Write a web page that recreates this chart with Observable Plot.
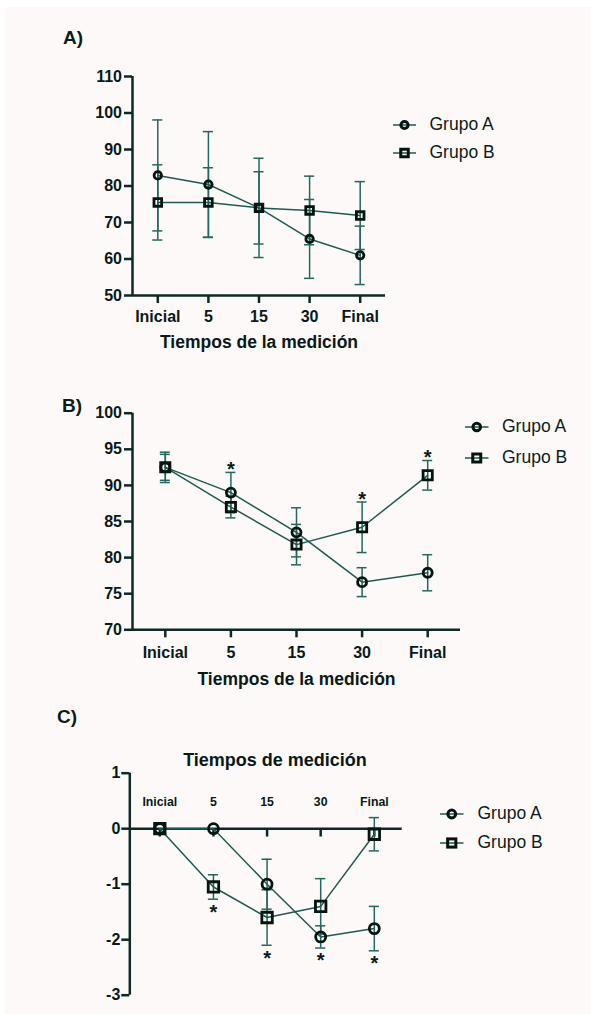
<!DOCTYPE html>
<html>
<head>
<meta charset="utf-8">
<script src="https://cdn.jsdelivr.net/npm/d3@7"></script>
<script src="https://cdn.jsdelivr.net/npm/@observablehq/plot@0.6"></script>
<style>
  html, body { margin: 0; padding: 0; background: #fff; }
  #page { position: relative; width: 591px; height: 1014px; background: #fff; overflow: hidden;
          font-family: "Liberation Sans", Arial, sans-serif; color: #0a1d1a; }
  #bg { position: absolute; left: 5px; top: 7px; right: 0; bottom: 0; background: #fdf9f8; }
  .plabel { position: absolute; font-size: 19px; font-weight: bold; line-height: 1; }
  .leg { position: absolute; display: flex; align-items: center; font-size: 17.5px; line-height: 1; }
  .leg svg { overflow: visible; }
  g[aria-label="x-axis tick"], g[aria-label="y-axis tick"] { stroke-width: 2.5px; }
  g[aria-label="x-axis tick"] path, g[aria-label="y-axis tick"] path { stroke-width: 2.5px; }
</style>
</head>
<body>
<div id="page"><div id="bg"></div></div>
<script>
// ---------- data ----------
const times = ["Inicial", "5", "15", "30", "Final"];
const groups = ["Grupo A", "Grupo B"];

// Panel A
const aMeanA = [82.9, 80.4, 74.0, 65.5, 61.0];
const aSdA   = [15.2, 14.5, 13.6, 10.8, 8.0];
const aMeanB = [75.5, 75.5, 74.0, 73.3, 71.9];
const aSdB   = [10.3, 9.5, 9.9, 9.4, 9.3];
const aTicks = [50, 60, 70, 80, 90, 100, 110];

// Panel B
const bMeanA = [92.5, 89.0, 83.5, 76.6, 77.9];
const bSdA   = [2.1, 2.8, 3.4, 2.0, 2.5];
const bMeanB = [92.5, 87.0, 81.8, 84.2, 91.4];
const bSdB   = [1.8, 1.5, 2.8, 3.5, 2.05];
const bTicks = [70, 75, 80, 85, 90, 95, 100];
const bSig   = ["5", "30", "Final"];

// Panel C
const cMeanA = [0, 0, -1.0, -1.95, -1.8];
const cSdA   = [0, 0, 0.45, 0.2, 0.4];
const cMeanB = [0, -1.05, -1.6, -1.4, -0.1];
const cSdB   = [0, 0.22, 0.5, 0.5, 0.3];
const cTicks = [-3, -2, -1, 0, 1];
const cSig   = ["5", "15", "30", "Final"];

const xTitleAB = "Tiempos de la medición";
const xTitleC = "Tiempos de medición";

// ---------- styling ----------
const FONT = "Liberation Sans, Arial, sans-serif";
const TEXT = "#081a17";
const AXIS = "#0c2925";
const LINE = "#1c5b52";
const ERR = "#22695d";
const MARK = "#04150f";

const page = document.getElementById("page");

function rows(mA, sA, mB, sB) {
  return times.flatMap((t, i) => [
    {t, g: groups[0], m: mA[i], s: sA[i]},
    {t, g: groups[1], m: mB[i], s: sB[i]}
  ]);
}
const xi = d => times.indexOf(d.t);

function seriesMarks(data, cap, rc, rs) {
  const withErr = data.filter(d => d.s > 0);
  return [
    Plot.ruleX(withErr, {x: xi, y1: d => d.m - d.s, y2: d => d.m + d.s, stroke: ERR, strokeWidth: 1.5}),
    Plot.ruleY(withErr, {y: d => d.m + d.s, x1: d => xi(d) - cap, x2: d => xi(d) + cap, stroke: ERR, strokeWidth: 1.5}),
    Plot.ruleY(withErr, {y: d => d.m - d.s, x1: d => xi(d) - cap, x2: d => xi(d) + cap, stroke: ERR, strokeWidth: 1.5}),
    Plot.line(data, {x: xi, y: "m", z: "g", stroke: LINE, strokeWidth: 1.5}),
    Plot.dot(data.filter(d => d.g === groups[0]), {x: xi, y: "m", symbol: "circle", r: rc, stroke: MARK, strokeWidth: 2.8, fill: "none"}),
    Plot.dot(data.filter(d => d.g === groups[1]), {x: xi, y: "m", symbol: "square", r: rs, stroke: MARK, strokeWidth: 2.8, fill: "none"})
  ];
}

function place(svg, top) {
  svg.style.position = "absolute";
  svg.style.left = "0px";
  svg.style.top = top + "px";
  page.appendChild(svg);
}

const baseStyle = {background: "transparent", fontFamily: FONT, color: TEXT, overflow: "visible"};

// ---------- Panel A ----------
{
  const data = rows(aMeanA, aSdA, aMeanB, aSdB);
  const p = Plot.plot({
    width: 591, height: 310,
    marginTop: 26, marginBottom: 65, marginLeft: 132, marginRight: 206,
    style: baseStyle,
    x: {domain: [-0.5, 4.5]},
    y: {domain: [50, 110]},
    marks: [
      Plot.axisY({ticks: aTicks, tickSize: 8, tickPadding: 2.5, fontSize: 16, fontWeight: "bold", stroke: AXIS, strokeWidth: 2.5, fill: TEXT, label: null}),
      Plot.axisX({ticks: [0, 1, 2, 3, 4], tickFormat: i => times[i], tickSize: 8, tickPadding: 7, fontSize: 16, fontWeight: "bold", stroke: AXIS, strokeWidth: 2.5, fill: TEXT, label: null}),
      Plot.ruleX([-0.5], {stroke: AXIS, strokeWidth: 2.5}),
      Plot.ruleY([50], {stroke: AXIS, strokeWidth: 2.5}),
      ...seriesMarks(data, 0.1, 3.7, 4.3),
      Plot.text([xTitleAB], {frameAnchor: "bottom", dy: 47, fontSize: 17.5, fontWeight: "bold", fill: TEXT, lineAnchor: "middle"})
    ]
  });
  place(p, 50);
}

// ---------- Panel B ----------
{
  const data = rows(bMeanA, bSdA, bMeanB, bSdB);
  const sig = bSig.map(t => {
    const ds = data.filter(d => d.t === t);
    return {t, y: d3.max(ds, d => d.m + d.s)};
  });
  const p = Plot.plot({
    width: 591, height: 310,
    marginTop: 22.7, marginBottom: 70.7, marginLeft: 132, marginRight: 131,
    style: baseStyle,
    x: {domain: [-0.5, 4.5]},
    y: {domain: [70, 100]},
    marks: [
      Plot.axisY({ticks: bTicks, tickSize: 8, tickPadding: 2.5, fontSize: 16, fontWeight: "bold", stroke: AXIS, strokeWidth: 2.5, fill: TEXT, label: null}),
      Plot.axisX({ticks: [0, 1, 2, 3, 4], tickFormat: i => times[i], tickSize: 8, tickPadding: 8.5, fontSize: 16, fontWeight: "bold", stroke: AXIS, strokeWidth: 2.5, fill: TEXT, label: null}),
      Plot.ruleX([-0.5], {stroke: AXIS, strokeWidth: 2.5}),
      Plot.ruleY([70], {stroke: AXIS, strokeWidth: 2.5}),
      ...seriesMarks(data, 0.076, 4.5, 5.2),
      Plot.text(sig, {x: xi, y: "y", text: () => "*", dy: -2.5, fontSize: 20, fontWeight: "bold", fill: TEXT, lineAnchor: "middle"}),
      Plot.text([xTitleAB], {frameAnchor: "bottom", dy: 50, fontSize: 17.5, fontWeight: "bold", fill: TEXT, lineAnchor: "middle"})
    ]
  });
  place(p, 390);
}

// ---------- Panel C ----------
{
  const data = rows(cMeanA, cSdA, cMeanB, cSdB);
  const sig = cSig.map(t => {
    const ds = data.filter(d => d.t === t);
    return {t, y: d3.min(ds, d => d.m - d.s)};
  });
  const p = Plot.plot({
    width: 591, height: 284,
    marginTop: 42.7, marginBottom: 19.3, marginLeft: 129.3, marginRight: 189.3,
    style: baseStyle,
    x: {domain: [-0.56, 4.52], axis: null},
    y: {domain: [-3, 1]},
    marks: [
      Plot.axisY({ticks: cTicks, tickFormat: d => String(d), tickSize: 8, tickPadding: 1.5, fontSize: 16, fontWeight: "bold", stroke: AXIS, strokeWidth: 2.5, fill: TEXT, label: null}),
      Plot.ruleX([-0.56], {stroke: AXIS, strokeWidth: 2.5}),
      Plot.ruleY([0], {stroke: AXIS, strokeWidth: 2.5}),
      Plot.ruleX([0, 1, 2, 3, 4], {x: d => d, y1: 0, y2: -0.15, stroke: AXIS, strokeWidth: 2.5}),
      Plot.text(times, {x: (d, i) => i, frameAnchor: "top", dy: 29, text: d => d, fontSize: 12.3, fontWeight: "bold", fill: TEXT, lineAnchor: "middle"}),
      ...seriesMarks(data, 0.095, 5, 5.9),
      Plot.text(sig, {x: xi, y: "y", text: () => "*", dy: 13, fontSize: 20, fontWeight: "bold", fill: TEXT, lineAnchor: "middle"}),
      Plot.text([xTitleC], {frameAnchor: "top", dy: -12.7, dx: 9, fontSize: 18, fontWeight: "bold", fill: TEXT, lineAnchor: "middle"})
    ]
  });
  place(p, 730);
}

// ---------- panel labels ----------
[["A)", 63, 37.3], ["B)", 62, 405], ["C)", 57, 716.7]].forEach(([t, x, y]) => {
  const d = document.createElement("div");
  d.className = "plabel";
  d.textContent = t;
  d.style.left = x + "px";
  d.style.top = (y - 9.5) + "px";
  page.appendChild(d);
});

// ---------- legends ----------
function legend(x1, x2, textX, yA, yB, rc, side) {
  [[groups[0], yA, "circle"], [groups[1], yB, "square"]].forEach(([label, y, sym]) => {
    const w = x2 - x1, cx = w / 2;
    const div = document.createElement("div");
    div.className = "leg";
    div.style.left = x1 + "px";
    div.style.top = (y - 11) + "px";
    div.style.height = "22px";
    const marker = sym === "circle"
      ? `<circle cx="${cx}" cy="11" r="${rc}" fill="none" stroke="${MARK}" stroke-width="3"/>`
      : `<rect x="${cx - side / 2}" y="${11 - side / 2}" width="${side}" height="${side}" fill="none" stroke="${MARK}" stroke-width="3"/>`;
    div.innerHTML = `<svg width="${w}" height="22"><line x1="0" x2="${w}" y1="11" y2="11" stroke="${LINE}" stroke-width="1.5"/>${marker}</svg>` +
      `<span style="margin-left:${textX - x2}px">${label}</span>`;
    page.appendChild(div);
  });
}
legend(393, 416, 429.5, 125, 153, 3.6, 7.5);
legend(465, 488.5, 502, 427, 457.7, 3.8, 8);
legend(440, 463.5, 477.5, 814, 842.7, 3.9, 8.2);
</script>
</body>
</html>
